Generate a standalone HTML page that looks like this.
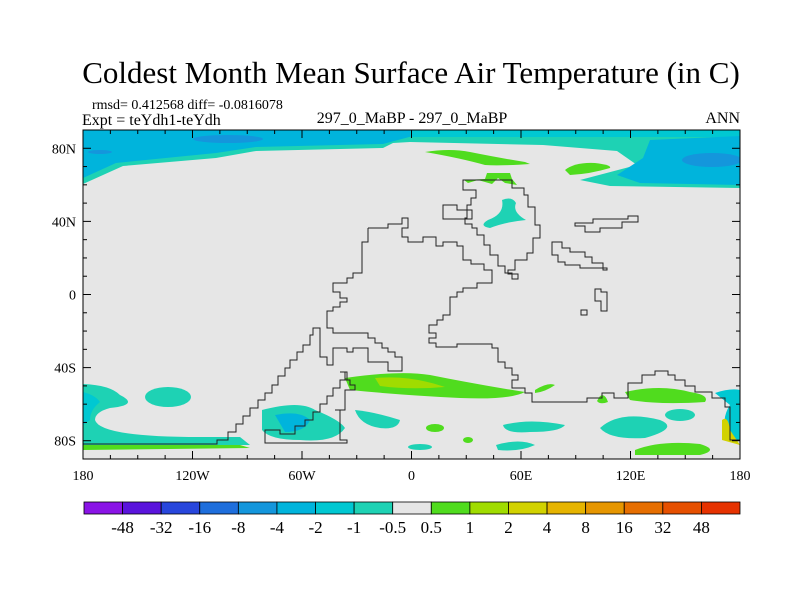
<!DOCTYPE html>
<html><head><meta charset="utf-8"><style>
body{margin:0;background:#fff;}
svg{display:block;font-family:"Liberation Serif",serif;}
</style></head><body>
<svg id="chart" width="800" height="600" viewBox="0 0 800 600">
<text x="411" y="83" font-size="31" text-anchor="middle">Coldest Month Mean Surface Air Temperature (in C)</text>
<text x="92" y="109" font-size="14">rmsd= 0.412568 diff= -0.0816078</text>
<text x="82" y="125" font-size="16">Expt = teYdh1-teYdh</text>
<text x="412" y="123" font-size="16" text-anchor="middle">297_0_MaBP - 297_0_MaBP</text>
<text x="740" y="123" font-size="16" text-anchor="end">ANN</text>
<defs><clipPath id="pc"><rect x="83" y="130" width="657" height="329"/></clipPath></defs>
<g id="map" clip-path="url(#pc)">
<rect x="83" y="130" width="657" height="329" fill="#e6e6e6"/>
<path d="M83 130H740V188L610 186L580 180L637 165L617 151L543 145L410 142L393 143L383 148L256 151L216 158L123 166L83 184Z" fill="#1ed2b4"/>
<path d="M83 130H413V136L383 144L256 147L216 153L116 163L83 178Z" fill="#00b4dc"/>
<rect x="410" y="130" width="330" height="7" fill="#00c8d2"/>
<path d="M740 136L650 140L643 158L617 175L640 183L740 185Z" fill="#00b4dc"/>
<ellipse cx="228" cy="139" rx="35" ry="4" fill="#1496dc"/>
<ellipse cx="712" cy="160" rx="30" ry="7" fill="#1496dc"/>
<ellipse cx="100" cy="152" rx="12" ry="2" fill="#1496dc"/>
<path d="M425 152Q450 148 470 152Q500 158 525 162L530 164Q500 166 485 165Q460 158 425 152Z" fill="#50dc1e"/>
<path d="M565 170Q575 162 595 163Q612 165 610 168Q590 174 570 175Z" fill="#50dc1e"/>
<path d="M464 180L485 179L487 173L510 173L512 179L517 185L505 183L498 178L492 184L478 180L468 183Z" fill="#50dc1e"/>
<path d="M502 200Q512 196 516 203Q512 212 526 220Q505 222 490 228Q478 226 488 220Q505 214 502 200Z" fill="#1ed2b4"/>
<path d="M83 384Q110 385 120 395Q140 405 110 408Q95 412 95 420Q100 437 200 437L240 437L250 445L83 445Z" fill="#1ed2b4"/>
<path d="M83 392Q95 395 100 402Q90 410 90 420L83 425Z" fill="#00c8d2"/>
<ellipse cx="168" cy="397" rx="23" ry="10" fill="#1ed2b4"/>
<path d="M83 445H240L250 448L83 450Z" fill="#50dc1e"/>
<path d="M262 410Q300 400 315 410Q340 420 345 428Q335 443 300 440Q270 440 262 430Z" fill="#1ed2b4"/>
<path d="M275 415Q300 410 310 420Q305 432 285 432Z" fill="#00b4dc"/>
<path d="M355 410Q375 412 400 420Q398 430 380 428Q360 425 355 410Z" fill="#1ed2b4"/>
<path d="M345 378Q400 370 430 375Q480 385 525 392Q510 400 460 398Q400 395 350 390Z" fill="#50dc1e"/>
<path d="M375 378Q410 375 445 387Q410 390 380 386Z" fill="#a0dc00"/>
<path d="M535 390Q548 382 555 385Q545 392 535 393Z" fill="#50dc1e"/>
<path d="M600 396Q605 393 608 402Q600 405 597 401Z" fill="#50dc1e"/>
<path d="M625 392Q660 384 690 392Q710 395 705 402Q660 405 630 400Z" fill="#50dc1e"/>
<path d="M503 425Q530 418 565 425Q560 432 530 432Q505 434 503 425Z" fill="#1ed2b4"/>
<path d="M496 445Q520 438 535 445Q520 452 498 450Z" fill="#1ed2b4"/>
<path d="M600 428Q620 410 660 420Q680 428 645 438Q610 440 600 428Z" fill="#1ed2b4"/>
<ellipse cx="680" cy="415" rx="15" ry="6" fill="#1ed2b4"/>
<path d="M635 450Q660 440 700 444Q720 450 700 455L635 455Z" fill="#50dc1e"/>
<ellipse cx="435" cy="428" rx="9" ry="4" fill="#50dc1e"/>
<ellipse cx="420" cy="447" rx="12" ry="3" fill="#1ed2b4"/>
<ellipse cx="468" cy="440" rx="5" ry="3" fill="#50dc1e"/>
<path d="M715 393Q730 388 740 390V440L728 438Q720 420 730 405Z" fill="#00c8d2"/>
<path d="M722 420Q728 415 730 430L740 445L722 440Z" fill="#d2d200"/>
<g fill="none" stroke="#222" stroke-width="1">
<path d="M368 228H388V224H402V218H408V228H402V237H408V242H423V237H436V246H443V242H457V246H463V260H471V264H484V270H492V283H477V288H463V292H457V297H450V315H443V320H437V325H429V333H436V338H429V343H436V347H457V344H492V348H498V362H505V368H512V375H518V380H512V388H525V393H532V402H587V398H602V393H614V398H628V383H642V375H655V371H668V375H675V380H685V386H695V392H712V398H725V407H730V440H740"/>
<path d="M368 228V242H362V273H353V278H347V283H333V292H340V298H347V302H340V307H333V311H327V328H333V333H368V338H375V343H382V348H388V352H395V357H402V371H388V362H368V348H353V352H347V348H333V365H327V357H320V328H313V335H310V345H303V352H297V360H290V368H285V376H278V385H272V393H265V400H258V408H250V416H243V424H236V432H228V440H217V444H83"/>
<path d="M340 372H347V380H340V388H333V396H327V404H320V412H313V420H305V426H295V434H280V430H265V443H347V440H340V410H335V410H345V390H355V385H350V380H345V372Z"/>
<path d="M463 180H512V188H524V195H528V207H535V225H540V238H533V253H527V260H515V270H508V274H518V279H512V273H505V266H498V255H490V245H484V235H477V228H472V224H465V218H467V205H471V198H476V190H463Z"/>
<path d="M443 205H457V210H472V219H443Z"/>
<path d="M575 223H593V219H628V216H638V222H622V228H600V232H585V226H575Z"/>
<path d="M552 242H562V248H570V252H585V257H592V263H603V270H607V268H580V265H565V262H558V255H552Z"/>
<path d="M595 289H601V292H607V311H601V301H595Z"/>
<path d="M581 310H587V315H581Z"/>
</g>
</g>
<g id="axes"></g>
<g id="cbar"></g>
</svg>
<script>
const xTickLabels=["180","120W","60W","0","60E","120E","180"];
const xTickLons=[-180,-120,-60,0,60,120,180];
const yTickLabels=["80N","40N","0","40S","80S"];
const yTickLats=[80,40,0,-40,-80];
const cbarLabels=["-48","-32","-16","-8","-4","-2","-1","-0.5","0.5","1","2","4","8","16","32","48"];
const cbarColors=["#8a14e6","#5a14dc","#2846dc","#1e6edc","#1496dc","#00b4dc","#00c8d2","#1ed2b4","#e6e6e6","#50dc1e","#a0dc00","#d2d200","#e6b400","#e69600","#e66e00","#e65000","#e63200"];
const NS="http://www.w3.org/2000/svg";
const X0=83,X1=740,Y0=130,Y1=459;
function xs(lon){return X0+(lon+180)/360*(X1-X0);}
function ys(lat){return Y0+(90-lat)/180*(Y1-Y0);}
function mk(t,a,p){const e=document.createElementNS(NS,t);for(const k in a)e.setAttribute(k,a[k]);p.appendChild(e);return e;}
const ax=document.getElementById('axes');
const frame=mk('rect',{x:X0,y:Y0,width:X1-X0,height:Y1-Y0,fill:'none',stroke:'#000','stroke-width':1},ax);


for(let lon=-180;lon<=180;lon+=15){const x=xs(lon);const L=lon%60===0?8:4;
 const t1=mk('line',{x1:x,x2:x,y1:Y1,y2:Y1-L,stroke:'#000'},ax);
 
 
 const t2=mk('line',{x1:x,x2:x,y1:Y0,y2:Y0+L,stroke:'#000'},ax);
 
 }
for(let lat=-90;lat<=90;lat+=10){const y=ys(lat);const L=lat%40===0?8:4;
 const t1=mk('line',{x1:X0,x2:X0+L,y1:y,y2:y,stroke:'#000'},ax);
 
 
 const t2=mk('line',{x1:X1,x2:X1-L,y1:y,y2:y,stroke:'#000'},ax);
 
 }
xTickLabels.forEach((s,i)=>{const t=mk('text',{x:xs(xTickLons[i]),y:480,'font-size':14,'text-anchor':'middle'},ax);t.textContent=s;
 
 });
yTickLabels.forEach((s,i)=>{const t=mk('text',{x:76,y:ys(yTickLats[i])+5,'font-size':14,'text-anchor':'end'},ax);t.textContent=s;
 
 });
const cb=document.getElementById('cbar');
const cx0=84,cx1=740,cy=502,ch=12,n=cbarColors.length,w=(cx1-cx0)/n;
cbarColors.forEach((c,i)=>{const r=mk('rect',{x:cx0+i*w,y:cy,width:w,height:ch,fill:c,stroke:'#000','stroke-width':0.8},cb);
 
 });
cbarLabels.forEach((s,i)=>{const t=mk('text',{x:cx0+(i+1)*w,y:533,'font-size':17,'text-anchor':'middle'},cb);t.textContent=s;
 
 });
</script>
</body></html>
